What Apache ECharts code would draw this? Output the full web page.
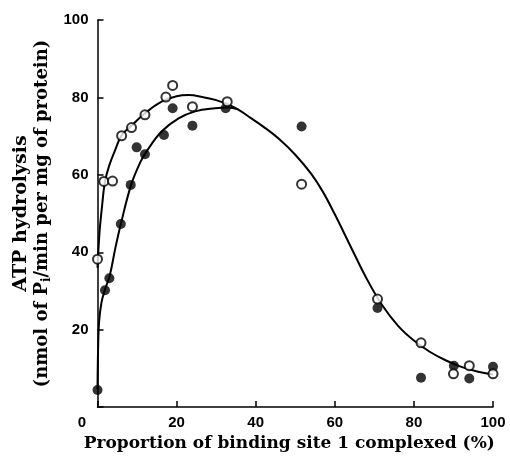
<!DOCTYPE html>
<html>
<head>
<meta charset="utf-8">
<script src="https://cdn.jsdelivr.net/npm/echarts@6/dist/echarts.min.js"></script>
<style>
  html, body { margin: 0; padding: 0; background: #fff; }
  #chart { width: 510px; height: 457px; }
</style>
</head>
<body>
<div id="chart"></div>
<script>
// open circles
const openX = [0, 1.6, 3.8, 6.1, 8.6, 12, 17.3, 19, 24, 32.8, 51.6, 70.8, 81.8, 90, 94, 100];
const openY = [38.2, 58.3, 58.4, 70.1, 72.2, 75.5, 80.1, 83.1, 77.6, 78.9, 57.6, 27.9, 16.6, 8.6, 10.7, 8.6];

// filled circles
const filledX = [0, 1.9, 3, 5.9, 8.4, 9.9, 12, 16.8, 19, 24, 32.4, 51.6, 70.8, 81.8, 90.1, 94, 100];
const filledY = [4.4, 30.2, 33.3, 47.3, 57.4, 67.1, 65.3, 70.3, 77.2, 72.7, 77.2, 72.5, 25.6, 7.6, 10.7, 7.4, 10.4];

// fitted curves
const upperX = [0, 0.5, 1.06, 1.9, 3, 4.5, 6.1, 8.7, 12, 16.2, 20, 23, 27, 30, 33, 35.5, 38.6, 42, 46, 50, 54, 57, 60, 64, 68, 72, 76, 80, 84, 88, 92, 96, 100];
const upperY = [36, 45, 51, 58.3, 62.5, 66.5, 70.2, 72.8, 75.9, 78.9, 80.3, 80.6, 80, 79.3, 78.2, 76.9, 74.8, 72.4, 69.2, 65.2, 60.3, 55.6, 49.8, 41.5, 33.3, 26.3, 21, 17.2, 14.3, 12.1, 10.4, 9.2, 8.4];
const lowerX = [0, 0.15, 0.4, 1, 1.9, 3.1, 4.5, 5.9, 8.5, 10.8, 12.5, 16.2, 20.5, 24.7, 29.7, 33.1, 35.5];
const lowerY = [4.6, 15, 22, 27, 30.4, 34, 41, 47.3, 57.4, 63.2, 66.2, 71.2, 74.6, 76.4, 77.2, 77.4, 76.9];

const xTicks = [0, 20, 40, 60, 80, 100];
const yTicks = [20, 40, 60, 80, 100];

const zip = (xs, ys) => xs.map((x, i) => [x, ys[i]]);

const serif = '"DejaVu Serif", "Liberation Serif", serif';
const sans = '"Liberation Sans", "DejaVu Sans", sans-serif';

const chart = echarts.init(document.getElementById('chart'));

chart.setOption({
  backgroundColor: '#fff',
  animation: false,
  grid: { left: 97.5, right: 17, top: 20, bottom: 49.3 },
  xAxis: {
    type: 'value', min: 0, max: 100, interval: 20,
    name: 'Proportion of binding site 1 complexed (%)',
    nameLocation: 'middle', nameGap: 20,
    nameTextStyle: { fontFamily: serif, fontWeight: 'bold', fontSize: 17, color: '#000', padding: [0, 12, 0, 0] },
    axisLine: { lineStyle: { color: '#000', width: 1.5 } },
    axisTick: { inside: true, length: 6, lineStyle: { color: '#000', width: 1.5 } },
    splitLine: { show: false },
    axisLabel: {
      margin: 8, color: '#000', fontFamily: sans, fontWeight: 'bold', fontSize: 15,
      formatter: v => xTicks.includes(v) ? (v === 0 ? '{z|0}' : String(v)) : '',
      rich: { z: { fontFamily: sans, fontWeight: 'bold', fontSize: 15, color: '#000', padding: [0, 31, 0, 0] } }
    }
  },
  yAxis: {
    type: 'value', min: 0, max: 100, interval: 20,
    name: '{a|ATP hydrolysis}\n{b|(nmol of P}{sub|i}{b|/min per mg of protein)}',
    nameLocation: 'middle', nameGap: 45, nameRotate: 90,
    nameTextStyle: {
      fontFamily: serif, fontWeight: 'bold', fontSize: 18, color: '#000',
      rich: {
        a: { fontFamily: serif, fontWeight: 'bold', fontSize: 19, lineHeight: 22, color: '#000' },
        b: { fontFamily: serif, fontWeight: 'bold', fontSize: 18, lineHeight: 20, color: '#000' },
        sub: { fontFamily: serif, fontWeight: 'bold', fontSize: 12, lineHeight: 20, color: '#000', padding: [8, 0, 0, 0] }
      }
    },
    axisLine: { lineStyle: { color: '#000', width: 1.5 } },
    axisTick: { inside: true, length: 6, lineStyle: { color: '#000', width: 1.5 } },
    splitLine: { show: false },
    axisLabel: {
      margin: 9, color: '#000', fontFamily: sans, fontWeight: 'bold', fontSize: 15,
      formatter: v => yTicks.includes(v) ? String(v) : ''
    }
  },
  series: [
    {
      type: 'line', data: zip(upperX, upperY), smooth: 0.4, symbol: 'none',
      lineStyle: { color: '#000', width: 2 }, z: 2
    },
    {
      type: 'line', data: zip(lowerX, lowerY), smooth: 0.4, symbol: 'none',
      lineStyle: { color: '#000', width: 2 }, z: 2
    },
    {
      type: 'scatter', data: zip(filledX, filledY), symbol: 'circle', symbolSize: 10,
      itemStyle: { color: '#000' }, clip: false, z: 3
    },
    {
      type: 'scatter', data: zip(openX, openY), symbol: 'circle', symbolSize: 9,
      itemStyle: { color: '#fff', borderColor: '#000', borderWidth: 2 }, clip: false, z: 4
    }
  ]
});
</script>
</body>
</html>
